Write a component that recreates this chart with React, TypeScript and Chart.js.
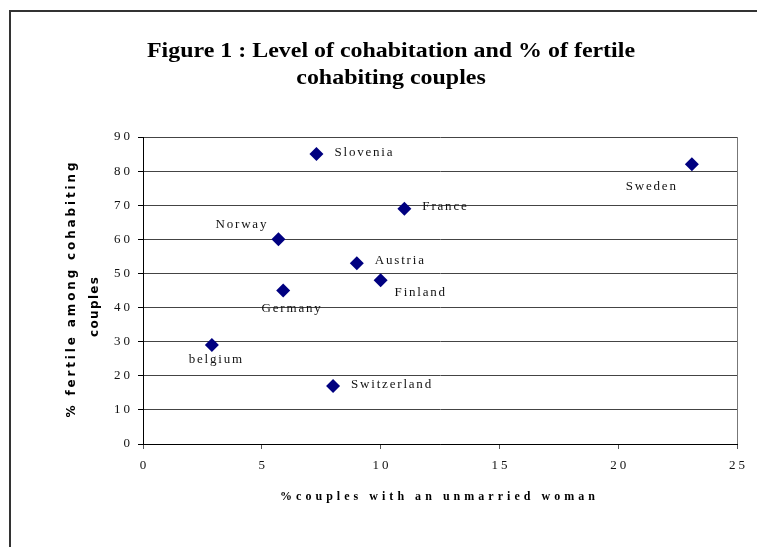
import { useEffect, useRef } from "react";
import { Chart, registerables } from "chart.js";

Chart.register(...registerables);

// ---- data ----
const countries = ["Slovenia", "Sweden", "France", "Norway", "Austria", "Finland", "Germany", "belgium", "Switzerland"];
const unmarriedPct = [7.3, 23.1, 11.0, 5.7, 9.0, 10.0, 5.9, 2.9, 8.0];
const fertilePct = [85, 82, 69, 60, 53, 48, 45, 29, 17];
const xTicks = [0, 5, 10, 15, 20, 25];
const yTicks = [0, 10, 20, 30, 40, 50, 60, 70, 80, 90];
const titleLines = ["Figure 1 : Level of cohabitation and % of fertile", "cohabiting couples"];
const xTitle = "%couples with an unmarried woman";
const yTitleLines = ["% fertile among cohabiting", "couples"];

// ---- label placement (styling) ----
type Place = { dx: number; dy: number; align: "left" | "center" | "right" };
const labelPlace: Record<string, Place> = {
  Slovenia: { dx: 18, dy: -1, align: "left" },
  Sweden: { dx: -41, dy: 22, align: "center" },
  France: { dx: 18, dy: -2, align: "left" },
  Norway: { dx: -12, dy: -15, align: "right" },
  Austria: { dx: 18, dy: -2.5, align: "left" },
  Finland: { dx: 14, dy: 12.5, align: "left" },
  Germany: { dx: 8, dy: 18.5, align: "center" },
  belgium: { dx: 3.5, dy: 15, align: "center" },
  Switzerland: { dx: 18, dy: -1.5, align: "left" },
};

const SERIF = '"Liberation Serif", "Times New Roman", serif';

function drawSpaced(ctx: CanvasRenderingContext2D, text: string, x: number, y: number, align: string, spacing: number) {
  (ctx as any).letterSpacing = spacing + "px";
  const w = ctx.measureText(text).width - spacing;
  let left = x;
  if (align === "center") left = x - w / 2;
  else if (align === "right") left = x - w;
  ctx.textAlign = "left";
  ctx.fillText(text, left, y);
  (ctx as any).letterSpacing = "0px";
}

function fitSpacing(ctx: CanvasRenderingContext2D, text: string, target: number) {
  (ctx as any).letterSpacing = "0px";
  const w0 = ctx.measureText(text).width;
  return Math.max(0, (target - w0) / (text.length - 1));
}

const decorPlugin = {
  id: "decor",
  afterDraw(chart: any) {
    const ctx: CanvasRenderingContext2D = chart.ctx;
    const area = chart.chartArea;
    const xs = chart.scales.x;
    const ys = chart.scales.y;
    ctx.save();

    // outer frame (top and left edges)
    ctx.strokeStyle = "#333";
    ctx.lineWidth = 2;
    ctx.beginPath();
    ctx.moveTo(9, 11);
    ctx.lineTo(757, 11);
    ctx.moveTo(10, 10);
    ctx.lineTo(10, 547);
    ctx.stroke();

    // right plot border
    ctx.strokeStyle = "#777";
    ctx.lineWidth = 1;
    ctx.beginPath();
    ctx.moveTo(Math.round(area.right) + 0.5, area.top);
    ctx.lineTo(Math.round(area.right) + 0.5, area.bottom);
    ctx.stroke();

    // title
    ctx.fillStyle = "#000";
    ctx.font = "bold 22px " + SERIF;
    ctx.textBaseline = "alphabetic";
    const w1 = ctx.measureText(titleLines[0]).width;
    const sx = 488 / w1;
    const cx = 391;
    ctx.save();
    ctx.translate(cx, 0);
    ctx.scale(sx, 1);
    ctx.textAlign = "center";
    ctx.fillText(titleLines[0], 0, 57);
    ctx.fillText(titleLines[1], 0, 84);
    ctx.restore();

    // tick labels
    ctx.fillStyle = "#111";
    ctx.font = "13px " + SERIF;
    ctx.textBaseline = "middle";
    xTicks.forEach((v) => {
      drawSpaced(ctx, String(v), xs.getPixelForValue(v), area.bottom + 22, "center", 3);
    });
    yTicks.forEach((v) => {
      drawSpaced(ctx, String(v), area.left - 13, ys.getPixelForValue(v), "right", 3);
    });

    // x-axis title
    ctx.fillStyle = "#000";
    ctx.font = "bold 12px " + SERIF;
    const sp = fitSpacing(ctx, xTitle, 315);
    drawSpaced(ctx, xTitle, 437.5, 497, "center", sp);

    // y-axis title
    ctx.font = "bold 12px " + '"DejaVu Sans", sans-serif';
    const yPos = [
      { x: 72, y: 290, len: 255 },
      { x: 95, y: 307, len: 60 },
    ];
    yTitleLines.forEach((t, i) => {
      const p = yPos[i];
      const s = fitSpacing(ctx, t, p.len);
      ctx.save();
      ctx.translate(p.x, p.y);
      ctx.rotate(-Math.PI / 2);
      drawSpaced(ctx, t, 0, 0, "center", s);
      ctx.restore();
    });

    // point labels
    ctx.fillStyle = "#111";
    ctx.font = "13px " + SERIF;
    ctx.textBaseline = "middle";
    countries.forEach((name, i) => {
      const px = xs.getPixelForValue(unmarriedPct[i]);
      const py = ys.getPixelForValue(fertilePct[i]);
      const pl = labelPlace[name];
      drawSpaced(ctx, name, px + pl.dx, py + pl.dy, pl.align, 1.8);
    });

    ctx.restore();
  },
};

export default function App() {
  const ref = useRef<HTMLCanvasElement | null>(null);
  useEffect(() => {
    if (!ref.current) return;
    const chart = new Chart(ref.current, {
      type: "scatter",
      data: {
        datasets: [
          {
            data: unmarriedPct.map((x, i) => ({ x, y: fertilePct[i] })),
            pointStyle: "rectRot",
            pointRadius: 7,
            pointHoverRadius: 7,
            backgroundColor: "#000080",
            borderColor: "#000080",
            borderWidth: 0,
          },
        ],
      },
      options: {
        responsive: false,
        animation: false,
        devicePixelRatio: 1,
        events: [],
        layout: { padding: { left: 0, top: 137, right: 20, bottom: 0 } },
        plugins: {
          legend: { display: false },
          tooltip: { enabled: false },
          title: { display: false },
        },
        scales: {
          x: {
            type: "linear",
            min: 0,
            max: 25,
            ticks: { stepSize: 5, color: "rgba(0,0,0,0)", font: { size: 13 } },
            grid: { drawOnChartArea: false, drawTicks: true, tickLength: 5, tickColor: "#555" },
            border: { color: "#000", width: 1 },
            afterFit: (s: any) => {
              s.height = 103;
            },
          },
          y: {
            type: "linear",
            min: 0,
            max: 90,
            ticks: { stepSize: 10, color: "rgba(0,0,0,0)", font: { size: 13 } },
            grid: { color: "#444", lineWidth: 1, tickLength: 5, tickColor: "#000" },
            border: { color: "#000", width: 1 },
            afterFit: (s: any) => {
              s.width = 143;
            },
          },
        },
      } as any,
      plugins: [decorPlugin],
    });
    return () => chart.destroy();
  }, []);

  return (
    <div style={{ position: "fixed", left: 0, top: 0, width: 757, height: 547, background: "#fff" }}>
      <canvas ref={ref} width={757} height={547} style={{ display: "block", width: 757, height: 547 }} />
    </div>
  );
}
